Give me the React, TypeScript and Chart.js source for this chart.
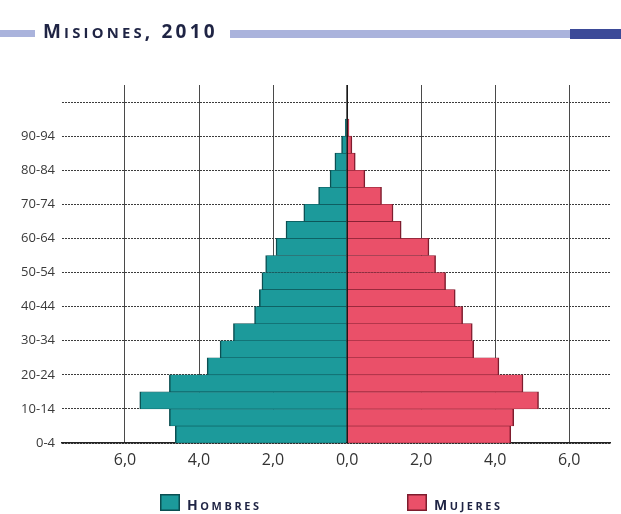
import { useEffect, useRef } from 'react';
import { Chart, registerables } from 'chart.js';

Chart.register(...registerables);

const chartTitle = 'Misiones, 2010';
const ageGroups = [
  '0-4', '5-9', '10-14', '15-19', '20-24', '25-29', '30-34', '35-39', '40-44', '45-49',
  '50-54', '55-59', '60-64', '65-69', '70-74', '75-79', '80-84', '85-89', '90-94',
];
const hombres = [4.64, 4.8, 5.6, 4.8, 3.78, 3.43, 3.07, 2.5, 2.37, 2.3, 2.2, 1.92, 1.65, 1.17, 0.77, 0.46, 0.33, 0.15, 0.05];
const mujeres = [4.42, 4.5, 5.17, 4.75, 4.1, 3.42, 3.38, 3.12, 2.92, 2.66, 2.39, 2.21, 1.46, 1.24, 0.93, 0.48, 0.22, 0.13, 0.05];
const seriesNames = ['Hombres', 'Mujeres'];
const xTickValues = [-6, -4, -2, 0, 2, 4, 6];
const yTickValues = [0, 2, 4, 6, 8, 10, 12, 14, 16, 18, 20];

const TEAL = '#1c9a9b';
const TEAL_DARK = '#0b4f52';
const PINK = '#ea5069';
const PINK_DARK = '#7e1c2e';
const NAVY = '#1f2444';
const FONT = "'Open Sans', sans-serif";

function drawSmallCaps(
  ctx: CanvasRenderingContext2D,
  text: string,
  x: number,
  y: number,
  size: number,
  ratio: number,
  spacing: number,
) {
  let cx = x;
  for (const ch of text) {
    const up = ch.toUpperCase();
    const isLower = ch !== up;
    const s = isLower ? size * ratio : size;
    ctx.font = `bold ${s}px ${FONT}`;
    ctx.fillText(up, cx, y);
    cx += ctx.measureText(up).width + spacing;
  }
}

const decorPlugin = {
  id: 'decor',
  afterDatasetsDraw(chart: any) {
    const { ctx, chartArea, scales } = chart;
    const x0 = scales.x.getPixelForValue(0);
    ctx.save();
    ctx.strokeStyle = '#111';
    ctx.lineWidth = 1.5;
    ctx.beginPath();
    ctx.moveTo(x0, chartArea.top);
    ctx.lineTo(x0, chartArea.bottom);
    ctx.stroke();
    ctx.restore();
  },
  afterDraw(chart: any) {
    const { ctx } = chart;
    ctx.save();
    // title bands
    ctx.fillStyle = '#aab3dc';
    ctx.fillRect(0, 30, 35, 7);
    ctx.fillRect(230, 30, 340, 8);
    ctx.fillStyle = '#3b4a98';
    ctx.fillRect(570, 29, 51, 10);
    // title
    ctx.fillStyle = NAVY;
    ctx.textBaseline = 'alphabetic';
    ctx.textAlign = 'left';
    drawSmallCaps(ctx, chartTitle, 43, 38, 19, 0.78, 3.2);
    // legend
    const items = [
      { name: seriesNames[0], fill: TEAL, border: TEAL_DARK, x: 160 },
      { name: seriesNames[1], fill: PINK, border: PINK_DARK, x: 407 },
    ];
    for (const it of items) {
      ctx.fillStyle = it.fill;
      ctx.fillRect(it.x, 494, 20, 17);
      ctx.strokeStyle = it.border;
      ctx.lineWidth = 1.5;
      ctx.strokeRect(it.x + 0.75, 494.75, 18.5, 15.5);
      ctx.fillStyle = NAVY;
      drawSmallCaps(ctx, it.name, it.x + 27, 510, 14, 0.78, 2.6);
    }
    ctx.restore();
  },
};

export default function App() {
  const ref = useRef<HTMLCanvasElement | null>(null);

  useEffect(() => {
    if (!ref.current) return;
    const chart = new Chart(ref.current, {
      type: 'bar',
      data: {
        datasets: [
          {
            label: seriesNames[0],
            data: hombres.map((v, i) => ({ x: -v, y: i + 0.5 })),
            backgroundColor: TEAL,
            borderColor: TEAL_DARK,
            borderWidth: { left: 1.5, right: 0, top: 0.6, bottom: 0.6 },
            borderSkipped: false,
            grouped: false,
            barPercentage: 1,
            categoryPercentage: 1,
          },
          {
            label: seriesNames[1],
            data: mujeres.map((v, i) => ({ x: v, y: i + 0.5 })),
            backgroundColor: PINK,
            borderColor: PINK_DARK,
            borderWidth: { left: 0, right: 1.5, top: 0.6, bottom: 0.6 },
            borderSkipped: false,
            grouped: false,
            barPercentage: 1,
            categoryPercentage: 1,
          },
        ],
      },
      options: {
        indexAxis: 'y',
        animation: false,
        responsive: true,
        maintainAspectRatio: false,
        events: [],
        layout: { padding: { top: 85, right: 11, left: 0, bottom: 0 } },
        plugins: {
          legend: { display: false },
          title: { display: false },
          tooltip: { enabled: false },
        },
        scales: {
          x: {
            type: 'linear',
            min: -7.7,
            max: 7.1,
            afterBuildTicks: (scale: any) => {
              scale.ticks = xTickValues.map((v) => ({ value: v }));
            },
            afterFit: (scale: any) => {
              scale.height = 71;
            },
            ticks: {
              padding: 8,
              color: '#333',
              font: { family: FONT, size: 16 },
              callback: (v: any) => Math.abs(Number(v)).toFixed(1).replace('.', ','),
            },
            grid: { color: '#4a4a4a', lineWidth: 1, drawTicks: false },
            border: { display: true, color: '#222', width: 1.5 },
          },
          y: {
            type: 'linear',
            min: 0,
            max: 21,
            offset: false,
            afterBuildTicks: (scale: any) => {
              scale.ticks = yTickValues.map((v) => ({ value: v }));
            },
            afterFit: (scale: any) => {
              scale.width = 62;
            },
            ticks: {
              padding: 7,
              color: '#3a3a3a',
              font: { family: FONT, size: 13 },
              callback: (v: any) => ageGroups[Number(v)] ?? '',
            },
            grid: { color: '#3c3c3c', lineWidth: 1, drawTicks: false, offset: false },
            border: { display: false, dash: [2, 1] },
          },
        },
      },
      plugins: [decorPlugin],
    });
    return () => chart.destroy();
  }, []);

  return (
    <div style={{ position: 'fixed', left: 0, top: 0, width: 621, height: 514, background: '#fff' }}>
      <canvas ref={ref} />
    </div>
  );
}
